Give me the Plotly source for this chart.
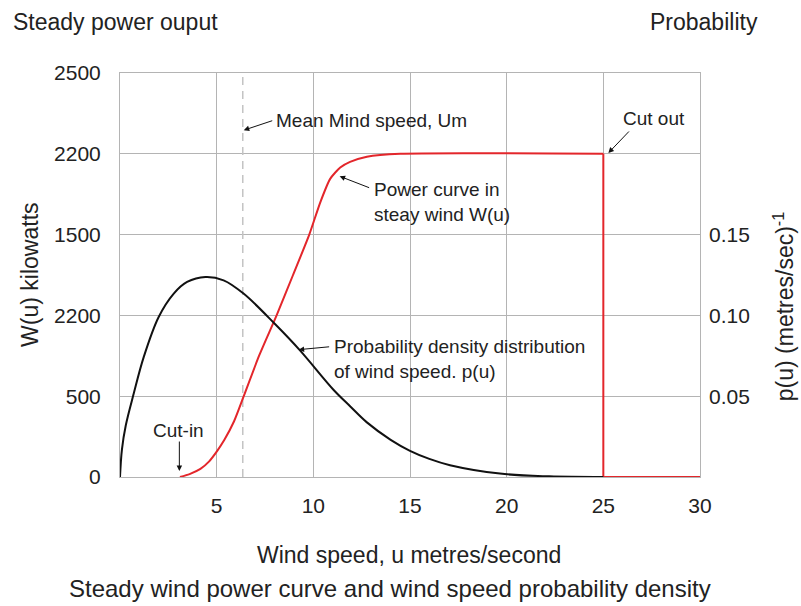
import plotly.graph_objects as go

# ---------------- data ----------------
power_speed = [3.1, 3.6, 4.16, 4.6, 5.02, 5.4, 5.9, 6.4, 7.2, 8.1, 8.95, 9.79, 10.36, 10.87, 11.39, 11.9, 12.77, 14.5, 25.0]
power_kw = [0, 18, 50, 95, 160, 230, 345, 500, 752, 1000, 1250, 1500, 1700, 1845, 1915, 1950, 1982, 2000, 2000]
cutout_speed = [25.0, 25.0, 30.0]
cutout_kw = [2000, 0, 0]

pdf_speed = [0, 0.1, 0.3, 0.71, 1.23, 2.0, 2.78, 3.47, 4.42, 5.36, 6.39, 8.03, 9.32, 11.04, 11.9, 12.77, 14.0, 15.0, 16.0, 17.07, 19.65, 22.2, 25.0]
pdf_value = [0, 0.017, 0.032, 0.0516, 0.0743, 0.099, 0.1135, 0.1207, 0.1238, 0.1217, 0.1135, 0.0945, 0.0782, 0.0540, 0.0438, 0.0338, 0.0230, 0.0162, 0.0112, 0.0073, 0.0021, 0.0004, 0.0]

mean_wind = 6.35

x_ticks = [5, 10, 15, 20, 25, 30]
x_ticktext = ["5", "10", "15", "20", "25", "30"]
left_tickvals = [0, 500, 1000, 1500, 2000, 2500]
left_ticktext = ["0", "500", "2200", "1500", "2200", "2500"]
right_tickvals = [0.05, 0.10, 0.15]
right_ticktext = ["0.05", "0.10", "0.15"]

# ---------------- style ----------------
FONT = "Liberation Sans, Arial, sans-serif"
RED = "#e3262b"
GRID = "#b4b4b4"
W, H = 801, 606
L, R, T, B = 119.5, 700.0, 72.7, 476.7


def px(x):
    return (x - L) / (R - L)


def py(y):
    return (B - y) / (B - T)


fig = go.Figure()

fig.add_trace(go.Scatter(x=[mean_wind, mean_wind], y=[0, 2500], mode="lines",
                         line=dict(color="#c4c4c4", width=1.5, dash="8px,6px"),
                         hoverinfo="skip", showlegend=False))
fig.add_trace(go.Scatter(x=pdf_speed, y=pdf_value, mode="lines", yaxis="y2",
                         line=dict(color="#111111", width=2, shape="spline", smoothing=1.0),
                         showlegend=False))
fig.add_trace(go.Scatter(x=power_speed, y=power_kw, mode="lines",
                         line=dict(color=RED, width=2, shape="spline", smoothing=0.6),
                         showlegend=False))
fig.add_trace(go.Scatter(x=cutout_speed, y=cutout_kw, mode="lines",
                         line=dict(color=RED, width=2),
                         showlegend=False))

ann = []
tfont = dict(family=FONT, size=19, color="#222222")


def arrow(x, y, ax, ay):
    ann.append(dict(x=x, y=y, xref="x", yref="y", ax=ax, ay=ay, text="", showarrow=True,
                    arrowhead=2, arrowsize=1.1, arrowwidth=1, arrowcolor="#111111", standoff=0))


arrow(6.40, 2146, 30, -10)
ann.append(dict(x=7.95, y=2207, xref="x", yref="y", text="Mean Mind speed, Um", showarrow=False,
                xanchor="left", yanchor="middle", font=tfont))
arrow(11.36, 1861, 31, 12)
ann.append(dict(x=13.03, y=1703, xref="x", yref="y", text="Power curve in<br>steay wind W(u)",
                showarrow=False, xanchor="left", yanchor="middle", align="left", font=tfont))
arrow(9.24, 788, 32, -3)
ann.append(dict(x=10.97, y=730, xref="x", yref="y",
                text="Probability density distribution<br>of wind speed. p(u)",
                showarrow=False, xanchor="left", yanchor="middle", align="left", font=tfont))
arrow(3.07, 37, 0, -31)
ann.append(dict(x=3.02, y=289, xref="x", yref="y", text="Cut-in", showarrow=False,
                xanchor="center", yanchor="middle", font=tfont))
arrow(25.26, 2005, 22, -23)
ann.append(dict(x=27.62, y=2220, xref="x", yref="y", text="Cut out", showarrow=False,
                xanchor="center", yanchor="middle", font=tfont))

big = dict(family=FONT, size=23, color="#222222")
bottom = dict(family=FONT, size=24, color="#222222")
ann.append(dict(x=px(10), y=py(22), xref="paper", yref="paper", text="Steady power ouput",
                showarrow=False, xanchor="left", yanchor="middle", font=big))
ann.append(dict(x=px(648), y=py(22), xref="paper", yref="paper", text="Probability",
                showarrow=False, xanchor="left", yanchor="middle", font=big))
ann.append(dict(x=px(30), y=py(275), xref="paper", yref="paper", text="W(u) kilowatts",
                showarrow=False, xanchor="center", yanchor="middle", textangle=-90, font=big))
ann.append(dict(x=px(784), y=py(306), xref="paper", yref="paper",
                text="p(u) (metres/sec)<sup>-1</sup>",
                showarrow=False, xanchor="center", yanchor="middle", textangle=-90, font=big))
ann.append(dict(x=px(409), y=py(555), xref="paper", yref="paper", text="Wind speed, u metres/second",
                showarrow=False, xanchor="center", yanchor="middle", font=big))
ann.append(dict(x=px(390), y=py(588), xref="paper", yref="paper",
                text="Steady wind power curve and wind speed probability density",
                showarrow=False, xanchor="center", yanchor="middle", font=bottom))

tickfont = dict(family=FONT, size=21, color="#222222")
fig.update_layout(
    width=W, height=H,
    margin=dict(l=L, r=W - R, t=T, b=H - B, pad=0),
    paper_bgcolor="white", plot_bgcolor="white",
    showlegend=False,
    annotations=ann,
    xaxis=dict(range=[0, 30], tickvals=x_ticks, ticktext=x_ticktext, showgrid=True,
               gridcolor=GRID, gridwidth=1, showline=True, linecolor=GRID, linewidth=1,
               mirror=True, ticks="", zeroline=False, tickfont=tickfont, ticklabelstandoff=10),
    yaxis=dict(range=[0, 2500], tickvals=left_tickvals, ticktext=left_ticktext, showgrid=True,
               gridcolor=GRID, gridwidth=1, showline=True, linecolor=GRID, linewidth=1,
               mirror=True, ticks="", zeroline=False, tickfont=tickfont, ticklabelstandoff=14),
    yaxis2=dict(range=[0, 0.25], tickvals=right_tickvals, ticktext=right_ticktext,
                overlaying="y", side="right", showgrid=False, zeroline=False, showline=False,
                ticks="", tickfont=tickfont, ticklabelstandoff=8),
)

fig.write_html("out.html", config={"displayModeBar": False},
               post_script="document.body.style.margin='0px';")
